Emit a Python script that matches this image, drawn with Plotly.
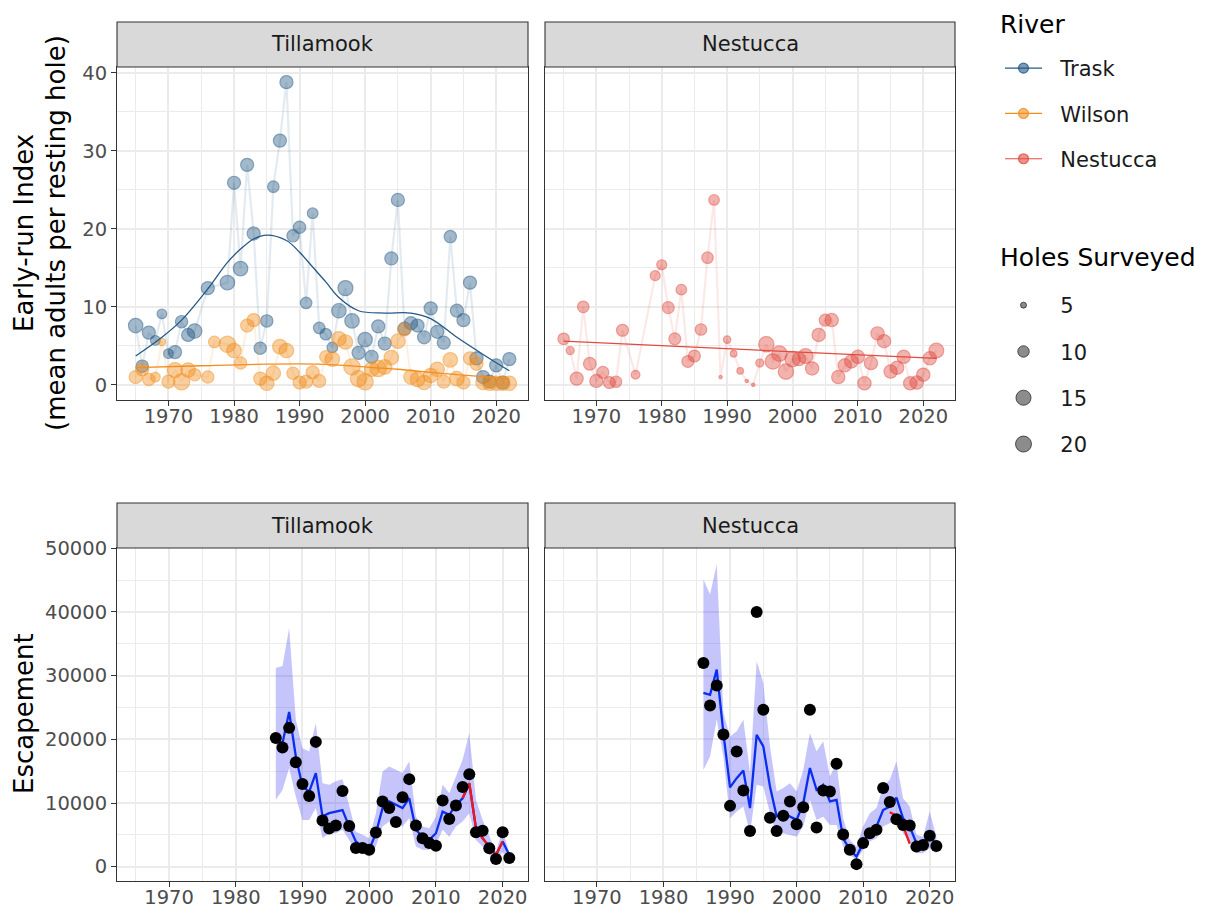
import numpy as np
import plotly.graph_objects as go

# The page adds an 8px body margin; lay out in screen pixels and compensate.
OFF = 8
W, H = 1214 - OFF, 916 - OFF
FONT = "DejaVu Sans"
NB = "\u00a0\u00a0"

# ---------------- data: early-run index (top panels) ----------------
trask_year = [1965, 1966, 1967, 1968, 1969, 1970, 1971, 1972, 1973, 1974, 1976,
              1979, 1980, 1981, 1982, 1983, 1984, 1985, 1986, 1987, 1988,
              1989, 1990, 1991, 1992, 1993, 1994, 1995, 1996, 1997, 1998,
              1999, 2000, 2001, 2002, 2003, 2004, 2005, 2006, 2007, 2008,
              2009, 2010, 2011, 2012, 2013, 2014, 2015, 2016, 2017, 2018,
              2019, 2020, 2021, 2022]
trask_index = [7.6, 2.4, 6.7, 5.7, 9.1, 4.0, 4.2, 8.1, 6.4, 6.9, 12.4,
               13.1, 25.9, 14.9, 28.2, 19.4, 4.7, 8.2, 25.4, 31.3, 38.8,
               19.1, 20.2, 10.5, 22.0, 7.3, 6.5, 4.8, 9.5, 12.4, 8.2,
               4.1, 5.8, 3.6, 7.5, 5.3, 16.2, 23.7, 7.2, 7.9, 7.6,
               6.1, 9.8, 6.8, 5.4, 19.0, 9.5, 8.3, 13.1, 3.4, 1.0,
               0.4, 2.5, 0.3, 3.3]
trask_holes = [14, 11, 12, 8, 8, 8, 12, 11, 12, 14, 12,
               14, 12, 14, 12, 12, 11, 11, 10, 12, 12,
               11, 11, 10, 9, 10, 10, 9, 14, 15, 14,
               12, 14, 12, 12, 12, 12, 12, 12, 12, 12,
               12, 12, 12, 12, 11, 12, 12, 12, 12, 12,
               12, 12, 12, 12]

wilson_year = [1965, 1966, 1967, 1968, 1969, 1970, 1971, 1972, 1973, 1974, 1976,
               1977, 1979, 1980, 1981, 1982, 1983, 1984, 1985, 1986, 1987,
               1988, 1989, 1990, 1991, 1992, 1993, 1994, 1995, 1996, 1997,
               1998, 1999, 2000, 2001, 2002, 2003, 2004, 2005, 2006, 2007,
               2008, 2009, 2010, 2011, 2012, 2013, 2014, 2015, 2016, 2017,
               2018, 2019, 2020, 2021, 2022]
wilson_index = [1.0, 2.0, 0.7, 1.0, 5.5, 0.4, 1.9, 0.4, 1.9, 1.3, 1.0,
                5.5, 5.2, 4.4, 2.8, 7.6, 8.3, 0.8, 0.2, 1.5, 4.9,
                4.4, 1.5, 0.3, 0.4, 1.6, 0.5, 3.6, 3.3, 5.9, 5.5,
                2.3, 0.8, 0.4, 2.0, 2.1, 2.3, 3.5, 5.6, 7.1, 1.0,
                0.7, 0.3, 1.2, 2.0, 0.4, 3.2, 0.8, 0.3, 3.4, 2.7,
                0.3, 0.2, 0.2, 0.2, 0.2]
wilson_holes = [12, 12, 11, 8, 6, 12, 15, 17, 14, 11, 11,
                10, 17, 14, 11, 12, 12, 12, 14, 14, 14,
                14, 11, 12, 12, 12, 12, 11, 14, 14, 14,
                17, 17, 17, 14, 17, 14, 14, 14, 12, 14,
                14, 14, 14, 14, 12, 14, 14, 12, 12, 12,
                14, 14, 14, 14, 14]

nest_year = trask_year
nest_index = [5.9, 4.4, 0.8, 10.0, 2.7, 0.5, 1.6, 0.3, 0.4, 7.0, 1.3,
              14.0, 15.4, 9.9, 5.9, 12.2, 3.0, 3.7, 7.1, 16.3, 23.7,
              1.0, 5.8, 4.0, 1.8, 0.5, 0.0, 2.8, 5.2, 3.0, 4.0,
              1.7, 3.3, 3.3, 3.7, 2.1, 6.4, 8.3, 8.3, 1.0, 2.5,
              3.0, 3.6, 0.2, 2.8, 6.6, 5.6, 1.7, 2.2, 3.6, 0.2,
              0.3, 1.3, 3.4, 4.4]
nest_holes = [10, 6.5, 12, 10, 11.5, 12, 10.5, 10.5, 10, 10.5, 7,
              8.3, 8.3, 10.5, 10.5, 9, 10.5, 10.5, 10, 10, 9,
              3.7, 6, 5.4, 5.4, 3.7, 3.7, 6.5, 15.4, 15.4, 15.4,
              15.4, 15.4, 12.3, 14.4, 12.3, 12.3, 10.5, 12.3, 12.3, 12.3,
              12.3, 12.3, 12.3, 12.3, 12.3, 12.3, 12.3, 12.3, 12.3, 12.3,
              12.3, 12.3, 12.3, 14.4]

# smoothed trends
trask_smooth_year = [1965, 1969, 1972, 1976, 1979, 1981, 1983, 1985, 1988, 1990,
                     1992, 1994, 1996, 1999, 2003, 2007, 2010, 2014, 2018, 2022]
trask_smooth = [3.7, 6.1, 8.3, 12.3, 15.7, 17.4, 18.7, 19.2, 18.5, 17.0,
                15.1, 13.2, 11.2, 9.5, 9.2, 9.2, 8.5, 6.1, 3.9, 1.8]
wilson_smooth_year = [1965, 1975, 1985, 1993, 2000, 2005, 2010, 2015, 2022]
wilson_smooth = [2.2, 2.45, 2.65, 2.65, 2.3, 2.0, 1.6, 1.25, 0.8]
nest_trend_year = [1965, 2022]
nest_trend = [5.6, 3.4]

# ---------------- data: escapement (bottom panels) ----------------
esc_year = list(range(1986, 2022))
till_esc = [20200, 18700, 21800, 16400, 13000, 11100, 19600, 7250, 6000, 6450,
            11900, 6400, 2950, 2950, 2650, 5350, 10250, 9200, 7000, 10900,
            13750, 6450, 4450, 3700, 3300, 10400, 7500, 9600, 12500, 14500,
            5400, 5650, 2900, 1200, 5400, 1350]
till_fit = [20000, 19400, 24300, 17300, 12600, 11800, 14700, 7900, 8400, 8650,
            8900, 6300, 3950, 3150, 2650, 5250, 9200, 10250, 9700, 9200,
            10750, 5800, 4700, 4200, 5250, 8650, 8150, 9700, 10750, 13100,
            6050, 4450, 3150, 1850, 3950, 1850]
till_lo = [10500, 12050, 15500, 11000, 7350, 7350, 9200, 4450, 5250, 5250,
           5800, 4200, 2350, 2100, 1600, 3150, 6300, 7100, 6800, 6300,
           7600, 3150, 2650, 2650, 3400, 5800, 4700, 6300, 7100, 8400,
           4200, 3150, 1850, 1050, 2350, 800]
till_hi = [31200, 31500, 37500, 23100, 18600, 18100, 22550, 13100, 12850, 13400,
           13750, 9450, 5500, 5000, 4450, 8400, 14950, 15750, 15200, 14700,
           16550, 7850, 6300, 6050, 7850, 12850, 11550, 14150, 16800, 21000,
           10500, 7350, 4700, 2350, 5800, 2100]
till_alt_year = [2014, 2015, 2016, 2017, 2018, 2019, 2020]
till_alt = [10750, 13100, 6050, 4450, 3150, 1850, 3950]

nest_esc = [32000, 25300, 28450, 20750, 9550, 18100, 11950, 5600, 40000, 24650,
            7700, 5600, 8000, 10250, 6650, 9350, 24650, 6150, 11950, 11800,
            16150, 5050, 2650, 400, 3700, 5250, 5800, 12350, 10150, 7450,
            6550, 6450, 3150, 3400, 4850, 3250]
nest_fit = [27300, 27000, 30950, 21000, 12450, 13900, 15100, 9200, 20700, 18900,
            12600, 7900, 8400, 7900, 7350, 9950, 15500, 12050, 12850, 10250,
            10500, 4450, 2650, 1600, 3700, 5500, 6300, 8900, 9450, 10850,
            7600, 6300, 3700, 3800, 5000, 3400]
nest_lo = [15200, 17300, 23100, 17300, 7600, 8650, 9450, 5250, 12850, 12600,
           8400, 5000, 5250, 5000, 4700, 6300, 10500, 7350, 7850, 6550,
           6550, 3150, 1850, 1050, 2650, 3950, 4450, 6300, 6800, 7350,
           5250, 3950, 2100, 2100, 2900, 2100]
nest_hi = [45100, 42750, 47500, 24150, 20450, 21250, 23100, 14700, 32250, 28850,
           18900, 11800, 12350, 13100, 11800, 15200, 21000, 18100, 19700, 14150,
           16250, 7600, 4200, 3150, 6300, 8400, 9200, 12600, 13650, 16550,
           10750, 9450, 5000, 4700, 8650, 4700]
nest_alt_year = [2014, 2015, 2016, 2017]
nest_alt = [8550, 8000, 6400, 3600]

river_names = ["Trask", "Wilson", "Nestucca"]
holes_legend = [5, 10, 15, 20]
x_ticks = [1970, 1980, 1990, 2000, 2010, 2020]

# ---------------- styles ----------------
COL = {"Trask": (36, 88, 133), "Wilson": (242, 142, 28), "Nestucca": (224, 75, 64)}


def rgba(c, a):
    return f"rgba({c[0]},{c[1]},{c[2]},{a})"


def hole_diam(h):
    h = np.asarray(h, dtype=float)
    return np.sqrt(np.maximum(19.2 * h - 60.0, 6.0))


fig = go.Figure()


def river_traces(years, vals, holes, name, xa, ya):
    c = COL[name]
    fig.add_trace(go.Scatter(x=years, y=vals, mode="lines", xaxis=xa, yaxis=ya,
                             line=dict(color=rgba(c, 0.12), width=2.2),
                             showlegend=False, hoverinfo="skip"))
    fig.add_trace(go.Scatter(x=years, y=vals, mode="markers", xaxis=xa, yaxis=ya,
                             marker=dict(size=hole_diam(holes), color=rgba(c, 0.6),
                                         line=dict(color=rgba(c, 0.75), width=1.2)),
                             showlegend=False))


river_traces(trask_year, trask_index, trask_holes, "Trask", "x", "y")
river_traces(wilson_year, wilson_index, wilson_holes, "Wilson", "x", "y")
river_traces(nest_year, nest_index, nest_holes, "Nestucca", "x2", "y2")

fig.add_trace(go.Scatter(x=trask_smooth_year, y=trask_smooth, mode="lines", xaxis="x", yaxis="y",
                         line=dict(color=rgba(COL["Trask"], 1), width=1.3, shape="spline", smoothing=1.0),
                         showlegend=False))
fig.add_trace(go.Scatter(x=wilson_smooth_year, y=wilson_smooth, mode="lines", xaxis="x", yaxis="y",
                         line=dict(color=rgba(COL["Wilson"], 1), width=1.3, shape="spline", smoothing=1.0),
                         showlegend=False))
fig.add_trace(go.Scatter(x=nest_trend_year, y=nest_trend, mode="lines", xaxis="x2", yaxis="y2",
                         line=dict(color=rgba(COL["Nestucca"], 1), width=1.3),
                         showlegend=False))


def esc_traces(lo, hi, fit, alt_year, alt, obs, xa, ya):
    fig.add_trace(go.Scatter(x=esc_year, y=lo, mode="lines", xaxis=xa, yaxis=ya,
                             line=dict(width=0, color="rgba(0,0,0,0)"), showlegend=False,
                             hoverinfo="skip"))
    fig.add_trace(go.Scatter(x=esc_year, y=hi, mode="lines", xaxis=xa, yaxis=ya, fill="tonexty",
                             fillcolor="rgba(40,40,240,0.27)",
                             line=dict(width=0, color="rgba(0,0,0,0)"), showlegend=False,
                             hoverinfo="skip"))
    fig.add_trace(go.Scatter(x=esc_year, y=fit, mode="lines", xaxis=xa, yaxis=ya,
                             line=dict(color="#0A2EF0", width=2.3), showlegend=False))
    fig.add_trace(go.Scatter(x=alt_year, y=alt, mode="lines", xaxis=xa, yaxis=ya,
                             line=dict(color="#F01818", width=2.3), showlegend=False))
    fig.add_trace(go.Scatter(x=esc_year, y=obs, mode="markers", xaxis=xa, yaxis=ya,
                             marker=dict(size=12, color="black"), showlegend=False))


esc_traces(till_lo, till_hi, till_fit, till_alt_year, till_alt, till_esc, "x3", "y3")
esc_traces(nest_lo, nest_hi, nest_fit, nest_alt_year, nest_alt, nest_esc, "x4", "y4")

# ---------------- legends ----------------
for nm in river_names:
    c = COL[nm]
    fig.add_trace(go.Scatter(x=[None], y=[None], mode="lines+markers", name=NB + nm,
                             legend="legend", legendgroup=nm,
                             line=dict(color=rgba(c, 1), width=1.2),
                             marker=dict(size=10, color=rgba(c, 0.6), line=dict(color=rgba(c, 0.8), width=1.2))))
for hv, d in zip(holes_legend, hole_diam(holes_legend)):
    fig.add_trace(go.Scatter(x=[None], y=[None], mode="markers", name=NB + str(hv),
                             legend="legend2", legendgroup=f"h{hv}",
                             marker=dict(size=float(d), color="rgba(0,0,0,0.45)",
                                         line=dict(color="rgba(0,0,0,0.6)", width=1))))

# ---------------- layout (positions given in screen pixels) ----------------
def px_x(x):
    return (x - OFF) / W


def px_y(y):
    return 1 - (y - OFF) / H


LEFT = [px_x(117), px_x(528)]
RIGHT = [px_x(545), px_x(955)]
TOP = [px_y(400), px_y(67)]
BOT = [px_y(881), px_y(548)]

GRID = "#EBEBEB"
AX = dict(showline=True, mirror=True, linecolor="#333333", linewidth=1.1,
          showgrid=True, gridcolor=GRID, gridwidth=1.6, zeroline=False, automargin=False,
          tickfont=dict(family=FONT, size=19.5, color="#4D4D4D"),
          ticks="outside", ticklen=5, tickwidth=1.1, tickcolor="#333333")


def xax(domain, rng, anchor):
    d = dict(AX)
    d.update(domain=domain, range=rng, anchor=anchor, tickmode="array", tickvals=x_ticks,
             ticktext=[str(v) for v in x_ticks], ticklabelstandoff=-6,
             minor=dict(tickmode="linear", tick0=1965, dtick=10, showgrid=True,
                        gridcolor=GRID, gridwidth=0.8, ticks=""))
    return d


def yax(domain, rng, anchor, dtick, labels=True):
    d = dict(AX)
    d.update(domain=domain, range=rng, anchor=anchor, tickmode="linear", tick0=0, dtick=dtick,
             tickformat="d", showticklabels=labels, ticks="outside" if labels else "",
             minor=dict(tickmode="linear", tick0=dtick / 2, dtick=dtick, showgrid=True,
                        gridcolor=GRID, gridwidth=0.8, ticks=""))
    return d


top_xr = [1962.15, 2024.85]
bot_xr = [1962.2, 2023.8]
top_yr = [-1.94, 40.74]
bot_yr = [-2250, 50050]

shapes = []
annotations = []
strips = [(117, 528, 22, 67, "Tillamook"), (545, 955, 22, 67, "Nestucca"),
          (117, 528, 503, 548, "Tillamook"), (545, 955, 503, 548, "Nestucca")]
for x0, x1, y0, y1, txt in strips:
    shapes.append(dict(type="rect", xref="paper", yref="paper", x0=px_x(x0), x1=px_x(x1),
                       y0=px_y(y1), y1=px_y(y0), fillcolor="#D9D9D9",
                       line=dict(color="#333333", width=1.1), layer="above"))
    annotations.append(dict(text=txt, xref="paper", yref="paper", x=px_x((x0 + x1) / 2),
                            y=px_y((y0 + y1) / 2), showarrow=False, xanchor="center",
                            yanchor="middle", font=dict(family=FONT, size=21, color="#1A1A1A")))


def vtitle(text, x, y):
    return dict(text=text, xref="paper", yref="paper", x=px_x(x), y=px_y(y),
                textangle=-90, showarrow=False, xanchor="center", yanchor="middle",
                font=dict(family=FONT, size=26, color="black"))


def ltitle(text, x, y):
    return dict(text=text, xref="paper", yref="paper", x=px_x(x), y=px_y(y),
                showarrow=False, xanchor="left", yanchor="middle", borderpad=0,
                font=dict(family=FONT, size=25, color="black"))


annotations += [
    vtitle("Early-run Index", 24, 233),
    vtitle("(mean adults per resting hole)", 56, 233),
    vtitle("Escapement", 24, 714),
    ltitle("River", 999, 24),
    ltitle("Holes Surveyed", 999, 257),
]

fig.update_layout(
    template="none",
    width=W, height=H,
    margin=dict(l=0, r=0, t=0, b=0, pad=0, autoexpand=False),
    paper_bgcolor="white", plot_bgcolor="white",
    font=dict(family=FONT, color="#1A1A1A"),
    xaxis=xax(LEFT, top_xr, "y"),
    yaxis=yax(TOP, top_yr, "x", 10),
    xaxis2=xax(RIGHT, top_xr, "y2"),
    yaxis2=yax(TOP, top_yr, "x2", 10, labels=False),
    xaxis3=xax(LEFT, bot_xr, "y3"),
    yaxis3=yax(BOT, bot_yr, "x3", 10000),
    xaxis4=xax(RIGHT, bot_xr, "y4"),
    yaxis4=yax(BOT, bot_yr, "x4", 10000, labels=False),
    shapes=shapes,
    annotations=annotations,
    legend=dict(x=px_x(1000), y=px_y(48), xanchor="left", yanchor="top",
                font=dict(family=FONT, size=21, color="#1A1A1A"),
                tracegroupgap=15, itemwidth=37, bgcolor="rgba(0,0,0,0)", itemsizing="trace"),
    legend2=dict(x=px_x(1000), y=px_y(285), xanchor="left", yanchor="top",
                 font=dict(family=FONT, size=21, color="#1A1A1A"),
                 tracegroupgap=16, itemwidth=37, bgcolor="rgba(0,0,0,0)", itemsizing="trace"),
    showlegend=True,
)

fig.write_html("out.html")
